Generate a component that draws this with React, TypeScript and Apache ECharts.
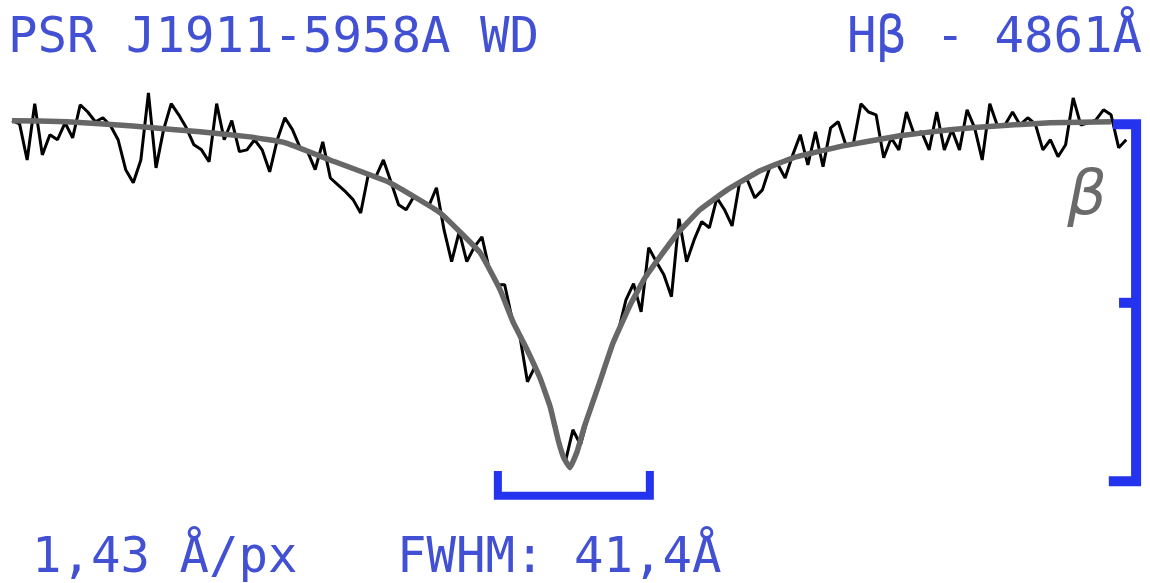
import React, { useEffect, useRef } from "react";
import * as echarts from "echarts";

// Wavelength grid of the observed spectrum (Å)
const wavelengthStart = 4714;
const wavelengthStep = 2;

// Observed normalised flux (% of continuum), one value per 2 Å
const observedFlux = [
  100.4, 99.5, 89.5, 105.1, 90.9, 96.5, 95.1, 99.8, 95.6, 104.8,
  102.8, 100.1, 101.2, 99.0, 95.1, 86.8, 83.2, 89.5, 108.1, 87.3,
  97.9, 105.1, 102.0, 98.4, 93.7, 92.3, 89.0, 105.1, 95.1, 100.4,
  91.8, 92.3, 95.1, 92.3, 86.2, 95.1, 101.2, 97.9, 92.9, 91.8,
  86.8, 94.5, 84.5, 82.6, 80.7, 78.5, 74.8, 85.4, 84.8, 89.5,
  83.4, 77.1, 75.7, 79.3, 77.9, 76.8, 81.8, 70.1, 61.3, 69.6,
  61.3, 65.4, 68.2, 58.8, 54.9, 54.9, 45.2, 40.7, 28.0, 32.2,
  27.2, 21.1, 11.9, 5.8, 14.7, 10.5, 18.3, 24.7, 30.8, 36.9,
  42.1, 50.7, 55.2, 47.4, 65.2, 61.3, 57.7, 51.6, 73.2, 61.3,
  67.4, 72.4, 70.7, 79.0, 75.7, 71.2, 83.4, 84.0, 79.0, 81.2,
  87.6, 88.4, 84.5, 90.9, 96.5, 88.1, 97.3, 87.6, 98.4, 100.1,
  93.7, 94.0, 105.1, 102.8, 102.0, 90.1, 95.6, 92.3, 102.8, 96.7,
  97.3, 92.3, 102.8, 92.3, 97.9, 92.3, 103.4, 98.4, 89.5, 105.1,
  99.0, 99.2, 102.8, 99.2, 101.2, 99.5, 92.3, 95.1, 90.4, 93.7,
  106.7, 99.2, 99.8, 100.6, 103.4, 102.0, 92.9, 95.1,
];

// Profile fit (Å, % of continuum)
const fitWavelengths = [
  4714.0, 4728.5, 4745.9, 4763.6, 4776.8, 4786.0, 4797.9, 4813.7, 4826.9, 4837.5,
  4842.8, 4846.2, 4849.9, 4853.3, 4856.0, 4858.1, 4859.6, 4861.2, 4863.1, 4864.9,
  4867.0, 4869.1, 4872.6, 4877.1, 4881.0, 4885.0, 4889.5, 4895.5, 4902.7, 4911.4,
  4920.1, 4933.3, 4948.3, 4961.5, 4974.7, 4987.9, 5004.0,
];
const fitFlux = [
  100.4, 100.1, 98.9, 97.3, 95.9, 94.3, 89.5, 83.2, 74.9, 63.8,
  53.5, 44.6, 36.9, 29.1, 21.1, 11.9, 6.9, 4.2, 8.6, 15.2,
  21.6, 28.0, 38.8, 49.3, 56.8, 62.7, 69.0, 75.7, 81.2, 86.5,
  90.1, 93.4, 96.2, 97.9, 99.0, 99.8, 100.1,
];

// FWHM bracket under the line (Å, %)
const fwhmBracketX = [4842.2, 4842.2, 4882.3, 4882.3];
const fwhmBracketY = [3.3, -3.6, -3.6, 3.3];

// Depth scale bracket on the right (Å, %)
const scaleBracketX = [5004.5, 5010.6, 5010.6, 5003.4];
const scaleBracketY = [99.4, 99.4, 0.4, 0.4];
const scaleTickX = [5006.1, 5010.6];
const scaleTickY = [49.9, 49.9];

// Labels
const titleLeft = "PSR J1911-5958A WD";
const titleRight = "Hβ - 4861Å";
const dispersionLabel = "1,43 Å/px";
const fwhmLabel = "FWHM: 41,4Å";
const lineLabel = "β";

const pairs = (xs: number[], ys: number[]) => xs.map((x, i) => [x, ys[i]]);

export default function App() {
  const ref = useRef<HTMLDivElement>(null);

  useEffect(() => {
    if (!ref.current) return;
    const chart = echarts.init(ref.current, undefined, { renderer: "svg" });
    const observed = observedFlux.map((v, i) => [wavelengthStart + i * wavelengthStep, v]);
    const blue = "#4251d3";
    const bracketBlue = "#2333ee";
    const mono = "'DejaVu Sans Mono', monospace";
    chart.setOption({
      animation: false,
      backgroundColor: "#ffffff",
      grid: { left: 12, right: 8.6, top: 86, bottom: 10 },
      xAxis: { type: "value", min: 4714, max: 5012, show: false },
      yAxis: { type: "value", min: -25, max: 110, show: false },
      series: [
        {
          type: "line",
          data: observed,
          symbol: "none",
          clip: false,
          z: 2,
          lineStyle: { color: "#000000", width: 3 },
        },
        {
          type: "line",
          data: pairs(fitWavelengths, fitFlux),
          symbol: "none",
          smooth: 0.1,
          clip: false,
          z: 3,
          lineStyle: { color: "#676767", width: 5.5 },
        },
        {
          type: "line",
          data: pairs(fwhmBracketX, fwhmBracketY),
          symbol: "none",
          clip: false,
          z: 4,
          lineStyle: { color: bracketBlue, width: 8, join: "miter", cap: "butt" },
        },
        {
          type: "line",
          data: pairs(scaleBracketX, scaleBracketY),
          symbol: "none",
          clip: false,
          z: 4,
          lineStyle: { color: bracketBlue, width: 10, join: "miter", cap: "butt" },
        },
        {
          type: "line",
          data: pairs(scaleTickX, scaleTickY),
          symbol: "none",
          clip: false,
          z: 4,
          lineStyle: { color: bracketBlue, width: 10, cap: "butt" },
        },
      ],
      graphic: [
        {
          type: "text",
          x: 8,
          y: 35,
          style: { text: titleLeft, fill: blue, font: `49px ${mono}`, verticalAlign: "middle", align: "left" },
        },
        {
          type: "text",
          x: 1142,
          y: 35,
          style: { text: titleRight, fill: blue, font: `49px ${mono}`, verticalAlign: "middle", align: "right" },
        },
        {
          type: "text",
          x: 32,
          y: 555,
          style: { text: dispersionLabel, fill: blue, font: `49px ${mono}`, verticalAlign: "middle", align: "left" },
        },
        {
          type: "text",
          x: 397,
          y: 555,
          style: { text: fwhmLabel, fill: blue, font: `49px ${mono}`, verticalAlign: "middle", align: "left" },
        },
        {
          type: "text",
          x: 1087,
          y: 192,
          style: {
            text: lineLabel,
            fill: "#6a6a6a",
            font: "italic 62px 'DejaVu Sans', sans-serif",
            verticalAlign: "middle",
            align: "center",
          },
        },
      ],
    });
    return () => chart.dispose();
  }, []);

  return (
    <div
      ref={ref}
      style={{ position: "absolute", left: 0, top: 0, width: 1150, height: 583, background: "#fff" }}
    />
  );
}
